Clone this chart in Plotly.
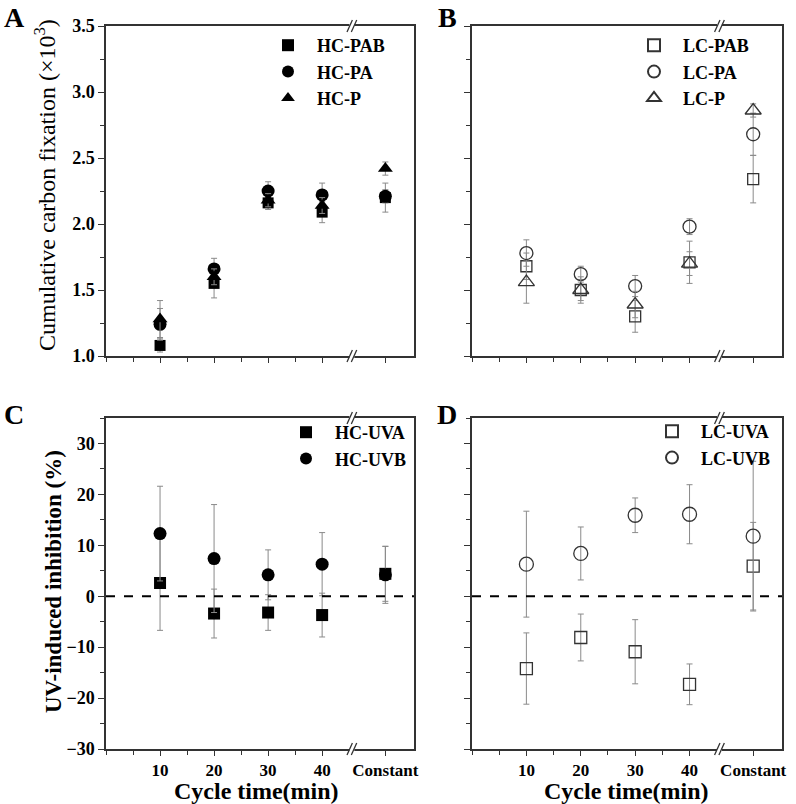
import plotly.graph_objects as go

# ---------------- data ----------------
cycle_labels = ["10", "20", "30", "40", "Constant"]
cycle_pos = [10, 20, 30, 40, 51.7]   # axis position of each category (broken axis)
break_pos = 45.5

# Panel A: cumulative carbon fixation (x10^3), HC
hc_pab = [1.08, 1.55, 2.16, 2.09, 2.20]
hc_pab_err = [0.05, 0.11, 0.05, 0.08, 0.11]
hc_pa = [1.24, 1.66, 2.25, 2.22, 2.21]
hc_pa_err = [0.12, 0.08, 0.07, 0.09, 0.05]
hc_p = [1.28, 1.60, 2.18, 2.14, 2.42]
hc_p_err = [0.14, 0.06, 0.05, 0.06, 0.05]

# Panel B: LC
lc_pab = [1.68, 1.50, 1.30, 1.71, 2.34]
lc_pab_err = [0.10, 0.08, 0.12, 0.16, 0.18]
lc_pa = [1.78, 1.62, 1.53, 1.98, 2.68]
lc_pa_err = [0.10, 0.06, 0.08, 0.06, 0.16]
lc_p = [1.56, 1.50, 1.39, 1.70, 2.86]
lc_p_err = [0.16, 0.10, 0.10, 0.09, 0.05]

# Panel C: UV-induced inhibition (%), HC
hc_uva = [2.6, -3.4, -3.2, -3.7, 4.4]
hc_uva_err = [9.3, 4.8, 3.5, 4.3, 5.4]
hc_uvb = [12.3, 7.4, 4.2, 6.3, 4.2]
hc_uvb_err = [9.3, 10.6, 4.9, 6.2, 5.6]

# Panel D: LC
lc_uva = [-14.2, -8.1, -10.9, -17.3, 5.9]
lc_uva_err = [7.0, 4.6, 6.3, 4.0, 8.6]
lc_uvb = [6.3, 8.4, 15.9, 16.1, 11.8]
lc_uvb_err = [10.4, 5.2, 3.4, 5.8, 14.7]

# ---------------- figure ----------------
W, H = 796, 804
FONT = "Liberation Serif"
ERR_COLOR = "#8a8a8a"
AX_COLOR = "#333333"

fig = go.Figure()


def px_x(p):
    return p / W


def px_y(p):
    return 1 - p / H


def add(name, y, err, xa, ya, symbol, size, filled, legend):
    if filled:
        marker = dict(symbol=symbol, size=size, color="black", line=dict(width=0))
    else:
        marker = dict(symbol=symbol + "-open", size=size, color="#333333",
                      line=dict(width=1.3, color="#333333"))
    fig.add_trace(go.Scatter(
        x=cycle_pos, y=y, name=name, mode="markers", marker=marker,
        error_y=dict(type="data", array=err, visible=True, color=ERR_COLOR,
                     thickness=1, width=3),
        xaxis=xa, yaxis=ya, legend=legend, showlegend=True))


add("HC-PAB", hc_pab, hc_pab_err, "x", "y", "square", 11, True, "legend")
add("HC-PA", hc_pa, hc_pa_err, "x", "y", "circle", 13, True, "legend")
add("HC-P", hc_p, hc_p_err, "x", "y", "triangle-up", 13, True, "legend")

add("LC-PAB", lc_pab, lc_pab_err, "x2", "y2", "square", 11, False, "legend2")
add("LC-PA", lc_pa, lc_pa_err, "x2", "y2", "circle", 13, False, "legend2")
add("LC-P", lc_p, lc_p_err, "x2", "y2", "triangle-up", 14, False, "legend2")

add("HC-UVA", hc_uva, hc_uva_err, "x3", "y3", "square", 12, True, "legend3")
add("HC-UVB", hc_uvb, hc_uvb_err, "x3", "y3", "circle", 13, True, "legend3")

add("LC-UVA", lc_uva, lc_uva_err, "x4", "y4", "square", 12, False, "legend4")
add("LC-UVB", lc_uvb, lc_uvb_err, "x4", "y4", "circle", 14, False, "legend4")

left_dom = [px_x(106), px_x(414)]
right_dom = [px_x(472), px_x(782)]
top_dom = [px_y(356), px_y(26)]
bot_dom = [px_y(749), px_y(418)]


def xaxis(domain, anchor, labels):
    return dict(domain=domain, anchor=anchor, range=[0, 57], automargin=False,
                tickmode="array", tickvals=cycle_pos, ticktext=cycle_labels,
                showticklabels=labels, ticks="outside", ticklen=5, tickwidth=1.3,
                tickcolor=AX_COLOR,
                minor=dict(tickvals=[0, 5, 15, 25, 35], ticks="outside", ticklen=4,
                           tickwidth=1.2, tickcolor=AX_COLOR),
                showline=True, linecolor=AX_COLOR, linewidth=1.5, mirror=True,
                showgrid=False, zeroline=False,
                tickfont=dict(family=FONT, size=17, color="black", weight="bold"))


def yaxis(domain, anchor, rng, vals, minor_dtick, labels, fmt):
    return dict(domain=domain, anchor=anchor, range=rng, automargin=False,
                tickmode="array", tickvals=vals, tickformat=fmt,
                showticklabels=labels, ticks="outside", ticklen=6, tickwidth=1.3,
                tickcolor=AX_COLOR,
                minor=dict(dtick=minor_dtick, ticks="outside", ticklen=4,
                           tickwidth=1.2, tickcolor=AX_COLOR),
                showline=True, linecolor=AX_COLOR, linewidth=1.5, mirror=True,
                showgrid=False, zeroline=False,
                tickfont=dict(family=FONT, size=18, color="black", weight="bold"))


cf_ticks = [1.0, 1.5, 2.0, 2.5, 3.0, 3.5]
uv_ticks = [-30, -20, -10, 0, 10, 20, 30]

legend_common = dict(font=dict(family=FONT, size=18, color="black", weight="bold"),
                     bgcolor="rgba(0,0,0,0)", itemwidth=48, itemsizing="constant",
                     xanchor="left", yanchor="top", tracegroupgap=0)

fig.update_layout(
    width=W, height=H,
    margin=dict(l=0, r=0, t=0, b=0, pad=0, autoexpand=False),
    paper_bgcolor="white", plot_bgcolor="white",
    xaxis=xaxis(left_dom, "y", False),
    yaxis=yaxis(top_dom, "x", [1.0, 3.5], cf_ticks, 0.25, True, ".1f"),
    xaxis2=xaxis(right_dom, "y2", False),
    yaxis2=yaxis(top_dom, "x2", [1.0, 3.5], cf_ticks, 0.25, False, ".1f"),
    xaxis3=xaxis(left_dom, "y3", True),
    yaxis3=yaxis(bot_dom, "x3", [-30, 35], uv_ticks, 5, True, "d"),
    xaxis4=xaxis(right_dom, "y4", True),
    yaxis4=yaxis(bot_dom, "x4", [-30, 35], uv_ticks, 5, False, "d"),
    legend=dict(x=px_x(259), y=px_y(27), **legend_common),
    legend2=dict(x=px_x(625), y=px_y(27), **legend_common),
    legend3=dict(x=px_x(277), y=px_y(414), **legend_common),
    legend4=dict(x=px_x(643), y=px_y(413), **legend_common),
)

# dashed zero lines in C and D
for xa, ya in [("x3", "y3"), ("x4", "y4")]:
    fig.add_shape(type="line", xref=f"{xa} domain", yref=ya, x0=0, x1=1, y0=0, y1=0,
                  line=dict(color="black", width=2, dash="dash"), layer="above")

# axis break marks (//) on top and bottom of every panel
for xa in ["x", "x2", "x3", "x4"]:
    ya = "y" + xa[1:]
    for yd in (0, 1):
        fig.add_shape(type="line", xref=xa, yref=f"{ya} domain",
                      x0=break_pos - 0.45, x1=break_pos + 0.45, y0=yd, y1=yd,
                      line=dict(color="white", width=4), layer="above")
        for off in (-0.4, 0.4):
            fig.add_shape(type="line", xref=xa, yref=f"{ya} domain",
                          x0=break_pos + off - 0.5, x1=break_pos + off + 0.5,
                          y0=yd - 0.018, y1=yd + 0.018,
                          line=dict(color=AX_COLOR, width=1.3), layer="above")

ann = []
# panel letters
for letter, x, y in [("A", 14, 17), ("B", 447, 17), ("C", 14, 415), ("D", 447, 415)]:
    ann.append(dict(text=letter, x=px_x(x), y=px_y(y), xref="paper", yref="paper",
                    showarrow=False, xanchor="center", yanchor="middle",
                    font=dict(family=FONT, size=28, color="black", weight="bold")))
# axis titles
ann.append(dict(text="Cumulative carbon fixation (×10<sup>3</sup>)", x=px_x(45), y=px_y(185),
                xref="paper", yref="paper", showarrow=False, textangle=-90,
                xanchor="center", yanchor="middle",
                font=dict(family=FONT, size=24, color="black")))
ann.append(dict(text="<b>UV-induced inhibition (%)</b>", x=px_x(53), y=px_y(582),
                xref="paper", yref="paper", showarrow=False, textangle=-90,
                xanchor="center", yanchor="middle",
                font=dict(family=FONT, size=23, color="black")))
for cx in (256, 626):
    ann.append(dict(text="<b>Cycle time(min)</b>", x=px_x(cx), y=px_y(791),
                    xref="paper", yref="paper", showarrow=False,
                    xanchor="center", yanchor="middle",
                    font=dict(family=FONT, size=24, color="black")))
fig.update_layout(annotations=ann)

fig.write_html("out.html", config={"displayModeBar": False},
               post_script="document.body.style.margin='0px';document.body.style.padding='0px';")
